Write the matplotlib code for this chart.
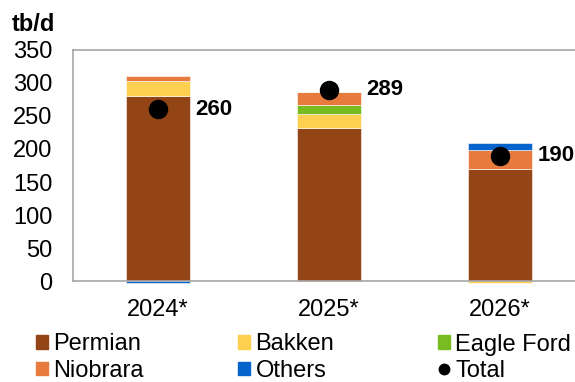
import matplotlib.pyplot as plt
import numpy as np
from matplotlib.patches import Patch
from matplotlib.lines import Line2D

plt.rcParams['font.family'] = ['Liberation Sans', 'DejaVu Sans']

# Daten (tb/d)
years = ['2024*', '2025*', '2026*']
permian = [280, 232, 169]
bakken = [23, 20, -2]
eagle_ford = [0, 15, 0]
niobrara = [7, 19, 29]
others = [-2, 0, 11]
total = [260, 289, 190]

colors = {
    'Permian': '#934516',
    'Bakken': '#FFCF4F',
    'Eagle Ford': '#78BC22',
    'Niobrara': '#E77B3E',
    'Others': '#0563CC',
}
series = [
    ('Permian', permian),
    ('Bakken', bakken),
    ('Eagle Ford', eagle_ford),
    ('Niobrara', niobrara),
    ('Others', others),
]

fig = plt.figure(figsize=(5.75, 3.82), dpi=100)
ax = fig.add_axes([0.1261, 0.2631, 0.892, 0.6073])

x = np.arange(len(years))
pos_bottom = np.zeros(len(years))
neg_bottom = np.zeros(len(years))
for name, vals in series:
    vals = np.array(vals, dtype=float)
    bottom = np.where(vals >= 0, pos_bottom, neg_bottom)
    ax.bar(x, vals, 0.37, bottom=bottom, color=colors[name], edgecolor='white',
           linewidth=0.4, clip_on=False, zorder=2)
    pos_bottom += np.where(vals > 0, vals, 0)
    neg_bottom += np.where(vals < 0, vals, 0)

ax.plot(x, total, 'o', color='black', markersize=13, zorder=4, clip_on=False)
for xi, t in zip(x, total):
    ax.annotate(str(t), (xi, t), xytext=(27, 0), textcoords='offset points',
                ha='left', va='center', fontsize=16, fontweight='bold',
                annotation_clip=False)

ax.set_xlim(-0.5, 2.5)
ax.set_ylim(0, 350)
ax.set_yticks(range(0, 351, 50))
ax.set_xticks(x)
ax.set_xticklabels(years)
ax.tick_params(axis='both', length=0, labelsize=17)
ax.tick_params(axis='y', pad=14.5)
ax.tick_params(axis='x', pad=12.5)
for s in ['left', 'bottom', 'top']:
    ax.spines[s].set_color('#A6A6A6')
    ax.spines[s].set_linewidth(1.2)
ax.spines['right'].set_visible(False)

fig.text(12 / 575, 1 - 13 / 382, 'tb/d', fontsize=17, fontweight='bold',
         ha='left', va='top')

# Legende: drei Spalten
groups = [
    (36, [Patch(color=colors['Permian']), Patch(color=colors['Niobrara'])],
     ['Permian', 'Niobrara']),
    (238, [Patch(color=colors['Bakken']), Patch(color=colors['Others'])],
     ['Bakken', 'Others']),
    (438, [Patch(color=colors['Eagle Ford']),
           Line2D([], [], marker='o', color='black', linestyle='none', markersize=7.5)],
     ['Eagle Ford', 'Total']),
]
for xpx, handles, labels in groups:
    fig.legend(handles, labels, loc='upper left', bbox_to_anchor=(xpx / 575, 1 - 333.5 / 382),
               frameon=False, fontsize=17, borderpad=0, borderaxespad=0,
               handlelength=0.5, handleheight=0.5, handletextpad=0.24,
               labelspacing=0.18)

fig.savefig('out.png', dpi=100)
